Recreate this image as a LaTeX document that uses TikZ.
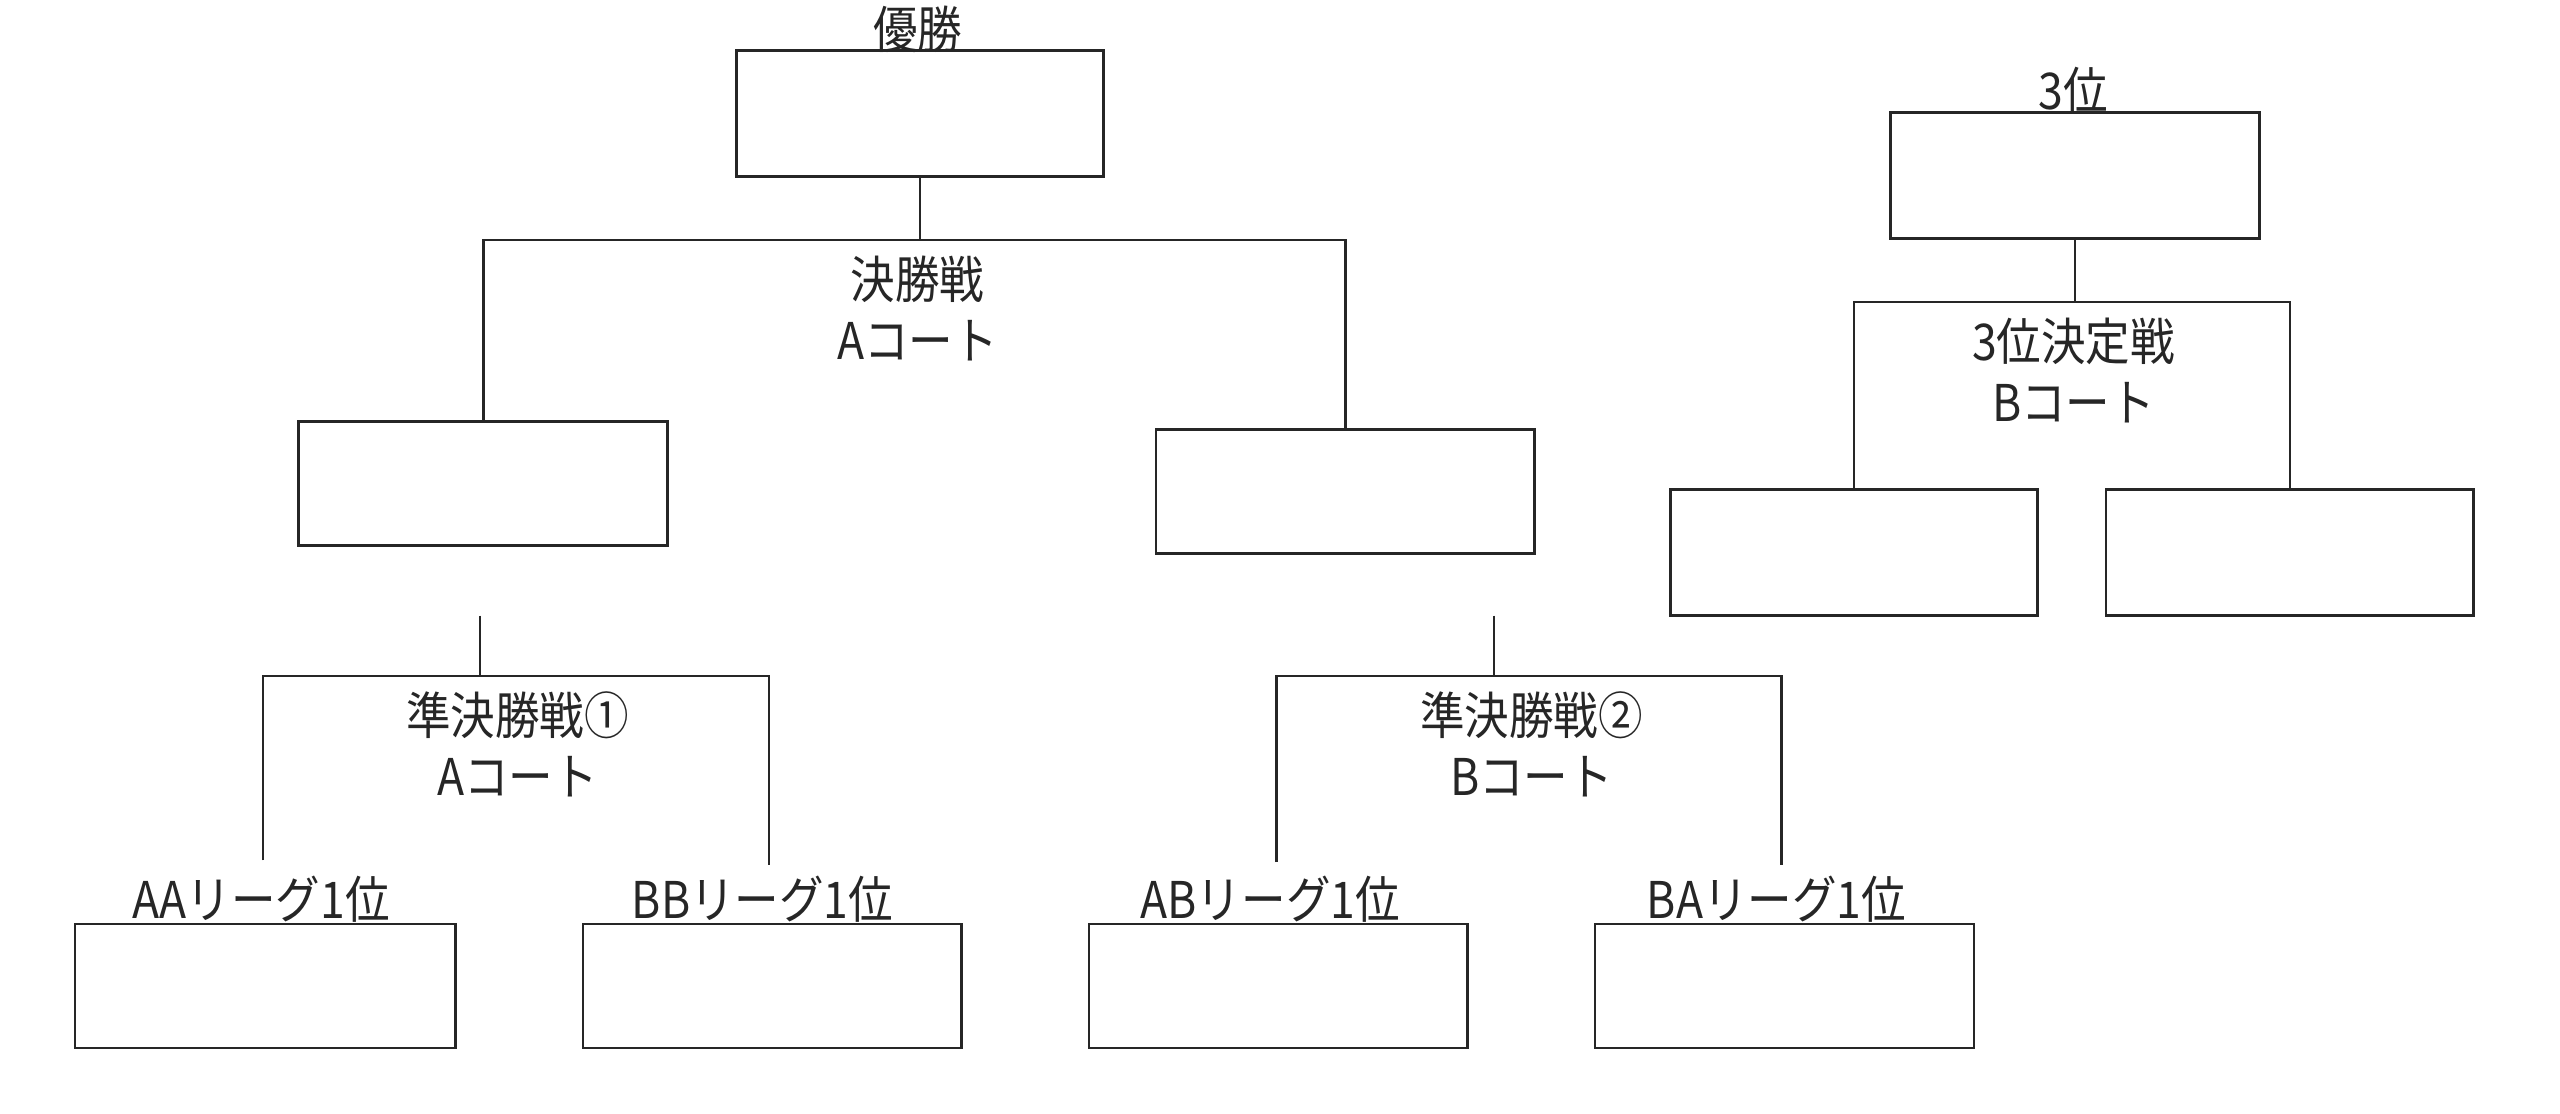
\documentclass[tikz,border=0pt]{standalone}
\usepackage{fontspec}
\newfontfamily\jpfont[FakeStretch=0.88]{Noto Sans CJK JP}
\begin{document}
\begin{tikzpicture}[x=1pt,y=-1pt,
  box/.style={draw=black!85,line width=1.6pt,inner sep=0,fill=white},
  lbl/.style={inner sep=0,text=black!85,font=\jpfont\fontsize{31}{37}\selectfont,align=center},
  conn/.style={draw=black!85,line width=1.6pt}]
\useasboundingbox (0,0) rectangle (1568,682);
% boxes
\node[box,minimum width=225pt,minimum height=77pt] (win) at (563.5,69.5) {};
\node[box,minimum width=226pt,minimum height=76pt] (L) at (296,296) {};
\node[box,minimum width=232pt,minimum height=76pt] (R) at (824,301) {};
\node[box,minimum width=233pt,minimum height=76pt] (AA) at (162.5,604) {};
\node[box,minimum width=232pt,minimum height=76pt] (BB) at (473,604) {};
\node[box,minimum width=232pt,minimum height=76pt] (AB) at (783,604) {};
\node[box,minimum width=232pt,minimum height=76pt] (BA) at (1093,604) {};
\node[box,minimum width=226pt,minimum height=77pt] (T3) at (1271,107.5) {};
\node[box,minimum width=225pt,minimum height=77pt] (T3L) at (1135.5,338.5) {};
\node[box,minimum width=225pt,minimum height=77pt] (T3R) at (1402.5,338.5) {};
% coordinates
\coordinate (fbar) at (563.5,147);
\coordinate (s1s) at (294,377);
\coordinate (s1m) at (294,414);
\coordinate (s1a) at (161,527);
\coordinate (s1b) at (471,530);
\coordinate (s2s) at (915,377);
\coordinate (s2m) at (915,414);
\coordinate (s2a) at (782,528);
\coordinate (s2b) at (1091,530);
\coordinate (tbar) at (1271,185);
% connectors
\draw[conn] (win.south) -- (fbar);
\draw[conn] (L.north) |- (fbar) -| (R.north);
\draw[conn] (s1s) -- (s1m);
\draw[conn] (s1a) |- (s1m) -| (s1b);
\draw[conn] (s2s) -- (s2m);
\draw[conn] (s2a) |- (s2m) -| (s2b);
\draw[conn] (T3.south) -- (tbar);
\draw[conn] (T3L.north) |- (tbar) -| (T3R.north);
% labels
\node[lbl] (lwin) at (562,18) {優勝};
\node[lbl] (lfin) at (562,189) {決勝戦\\Aコート};
\node[lbl] (ls1) at (317,456) {準決勝戦①\\Aコート};
\node[lbl] (ls2) at (938,456) {準決勝戦②\\Bコート};
\node[lbl] (laa) at (160,551) {AAリーグ1位};
\node[lbl] (lbb) at (467,551) {BBリーグ1位};
\node[lbl] (lab) at (778,551) {ABリーグ1位};
\node[lbl] (lba) at (1088,551) {BAリーグ1位};
\node[lbl] (l3) at (1270,55) {3位};
\node[lbl] (l3f) at (1270,227) {3位決定戦\\Bコート};
\end{tikzpicture}
\end{document}
